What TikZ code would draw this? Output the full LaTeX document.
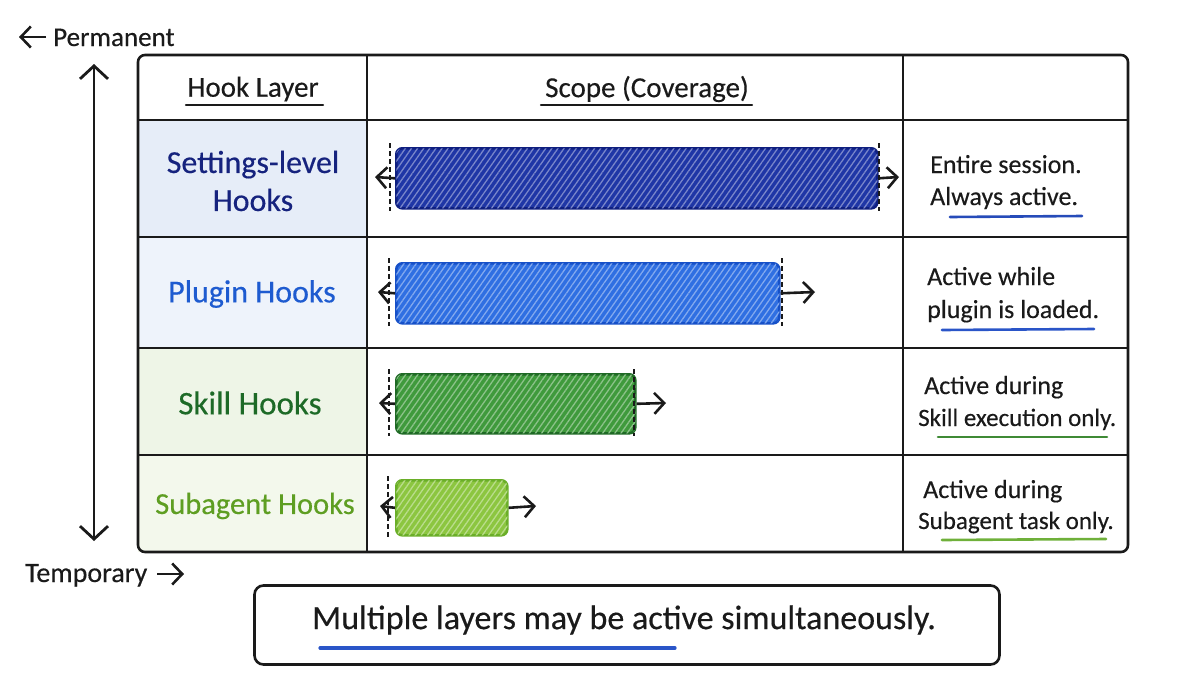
\documentclass[tikz,border=0pt]{standalone}
\usepackage{fontspec}
\setmainfont{Carlito}[FakeBold=0.35]
\usetikzlibrary{arrows.meta,patterns.meta}
\definecolor{navy}{HTML}{16237E}
\definecolor{barA}{HTML}{1F36A6}
\definecolor{barAd}{HTML}{0F1F80}
\definecolor{plug}{HTML}{1E5BD0}
\definecolor{barB}{HTML}{2F6FE2}
\definecolor{barBd}{HTML}{1650C8}
\definecolor{skill}{HTML}{1D6A27}
\definecolor{barC}{HTML}{3F9A3C}
\definecolor{barCd}{HTML}{1F6A25}
\definecolor{sub}{HTML}{5E9E22}
\definecolor{barD}{HTML}{8CC640}
\definecolor{barDd}{HTML}{6AAE28}
\definecolor{fillA}{HTML}{E6EDF8}
\definecolor{fillB}{HTML}{EEF3FB}
\definecolor{fillC}{HTML}{EEF5E7}
\definecolor{fillD}{HTML}{F3F8EC}
\definecolor{ink}{HTML}{1A1A1A}
\definecolor{ulblue}{HTML}{2A55C8}
\definecolor{ulgreen}{HTML}{3F8A35}
\definecolor{ullgreen}{HTML}{6FB03A}
\tikzset{
  grid/.style={draw=ink, line width=2.6pt},
  arr/.style={draw=ink, line width=2.6pt, -{Straight Barb[length=10pt,width=21pt]}},
  bigarr/.style={draw=ink, line width=2.8pt, {Straight Barb[length=13pt,width=28pt]}-{Straight Barb[length=13pt,width=28pt]}},
  bar/.style={rounded corners=6pt, line width=2.6pt, anchor=north west, inner sep=0pt},
  hatch/.style={postaction={pattern={Lines[angle=55,distance=5pt,line width=1.3pt]}, pattern color=#1}},
  limitline/.style={draw=ink, line width=1.6pt, dash pattern=on 5pt off 3pt},
  head/.style={font=\fontsize{29}{34}\selectfont, text=ink},
  lab/.style={font=\fontsize{32}{38}\selectfont, align=center},
  desc/.style={font=\fontsize{26}{30}\selectfont, text=ink, anchor=base west, inner sep=0pt},
  side/.style={font=\fontsize{27}{30}\selectfont, text=ink, anchor=base west, inner sep=0pt},
  ul/.style={line width=2.6pt, line cap=round},
}
\begin{document}
\begin{tikzpicture}[x=1pt,y=-1pt]
\useasboundingbox (0,0) rectangle (1199,675);
% left column fills
\fill[fillA] (138,120) rectangle (367,237);
\fill[fillB] (138,237) rectangle (367,348);
\fill[fillC] (138,348) rectangle (367,455);
\fill[fillD] (138,455) rectangle (367,552);
% table grid
\draw[grid, rounded corners=7pt] (138,55) rectangle (1128,552);
\draw[grid] (138,120) -- (1128,120);
\draw[grid] (138,237) -- (1128,237);
\draw[grid] (138,348) -- (1128,348);
\draw[grid] (138,455) -- (1128,455);
\draw[grid] (367,55) -- (367,552);
\draw[grid] (903,55) -- (903,552);
% headers
\node[head] (h1) at (253,89) {Hook Layer};
\node[head] (h2) at (647,89) {Scope (Coverage)};
\draw[ink, ul, line width=2.2pt] (186,105) -- (323,105);
\draw[ink, ul, line width=2.2pt] (541,105) -- (752,105);
% row labels
\node[lab, text=navy] (l1) at (253,181) {Settings-level\\Hooks};
\node[lab, text=plug] (l2) at (252,294) {Plugin Hooks};
\node[lab, text=skill, font=\fontsize{33}{38}\selectfont] (l3) at (250,403) {Skill Hooks};
\node[lab, text=sub, font=\fontsize{30.5}{36}\selectfont] (l4) at (255,506) {Subagent Hooks};
% bars
\node[bar, draw=barAd, fill=barA, hatch=barA!60!white, minimum width=481pt, minimum height=60pt] (b1) at (395,147) {};
\node[bar, draw=barBd, fill=barB, hatch=barB!60!white, minimum width=383pt, minimum height=60pt] (b2) at (395,262) {};
\node[bar, draw=barCd, fill=barC, hatch=barC!60!white, minimum width=239pt, minimum height=59pt] (b3) at (395,373) {};
\node[bar, draw=barDd, fill=barD, hatch=barD!60!white, minimum width=111pt, minimum height=55pt] (b4) at (395,479) {};
% dashed limits
\draw[limitline] (390,143) -- (390,211);
\draw[limitline] (879,143) -- (879,211);
\draw[limitline] (389,258) -- (389,326);
\draw[limitline] (782,258) -- (782,326);
\draw[limitline] (389,369) -- (389,436);
\draw[limitline] (634,369) -- (634,436);
\draw[limitline] (388,476) -- (388,538);
% arrows
\coordinate (b1l) at (375,177);
\coordinate (b1r) at (899,177);
\coordinate (b2l) at (378,292);
\coordinate (b2r) at (815,292);
\coordinate (b3l) at (379,403);
\coordinate (b3r) at (666,403);
\coordinate (b4l) at (380,506);
\coordinate (b4r) at (536,506);
\draw[arr] (b1.west) -- (b1l);
\draw[arr] (b1.east) -- (b1r);
\draw[arr] (b2.west) -- (b2l);
\draw[arr] (b2.east) -- (b2r);
\draw[arr] (b3.west) -- (b3l);
\draw[arr] (b3.east) -- (b3r);
\draw[arr] (b4.west) -- (b4l);
\draw[arr] (b4.east) -- (b4r);
% descriptions
\node[desc] (d1a) at (930,173) {Entire session.};
\node[desc] (d1b) at (930,205) {Always active.};
\draw[ulblue!80!navy, ul] (950,217) -- (1082,216);
\node[desc] (d2a) at (927,285) {Active while};
\node[desc] (d2b) at (927,318) {plugin is loaded.};
\draw[ulblue, ul] (942,330) -- (1094,329);
\node[desc] (d3a) at (924,394) {Active during};
\node[desc, font=\fontsize{25}{30}\selectfont] (d3b) at (918,426) {Skill execution only.};
\draw[ulgreen, ul] (938,437) -- (1107,437);
\node[desc] (d4a) at (923,498) {Active during};
\node[desc, font=\fontsize{25}{30}\selectfont] (d4b) at (918,529) {Subagent task only.};
\draw[ullgreen, ul] (942,540) -- (1106,539);
% left axis
\node[side] (perm) at (53,46) {Permanent};
\coordinate (permA0) at (46,37);
\coordinate (permA1) at (19,37);
\draw[arr] (permA0) -- (permA1);
\node[side, font=\fontsize{28}{30}\selectfont] (temp) at (25,582) {Temporary};
\coordinate (tempA0) at (157,574);
\coordinate (tempA1) at (184,574);
\draw[arr] (tempA0) -- (tempA1);
\coordinate (axTop) at (94,64);
\coordinate (axBot) at (94,541);
\draw[bigarr] (axTop) -- (axBot);
% bottom note
\node[draw=ink, line width=2.6pt, rounded corners=9pt, minimum width=745pt, minimum height=79pt] (note) at (627,625) {};
\node[font=\fontsize{34}{38}\selectfont, text=ink] (notet) at (624,620) {Multiple layers may be active simultaneously.};
\draw[ulblue, ul, line width=3.2pt] (320,648) -- (675,648);
\end{tikzpicture}
\end{document}
